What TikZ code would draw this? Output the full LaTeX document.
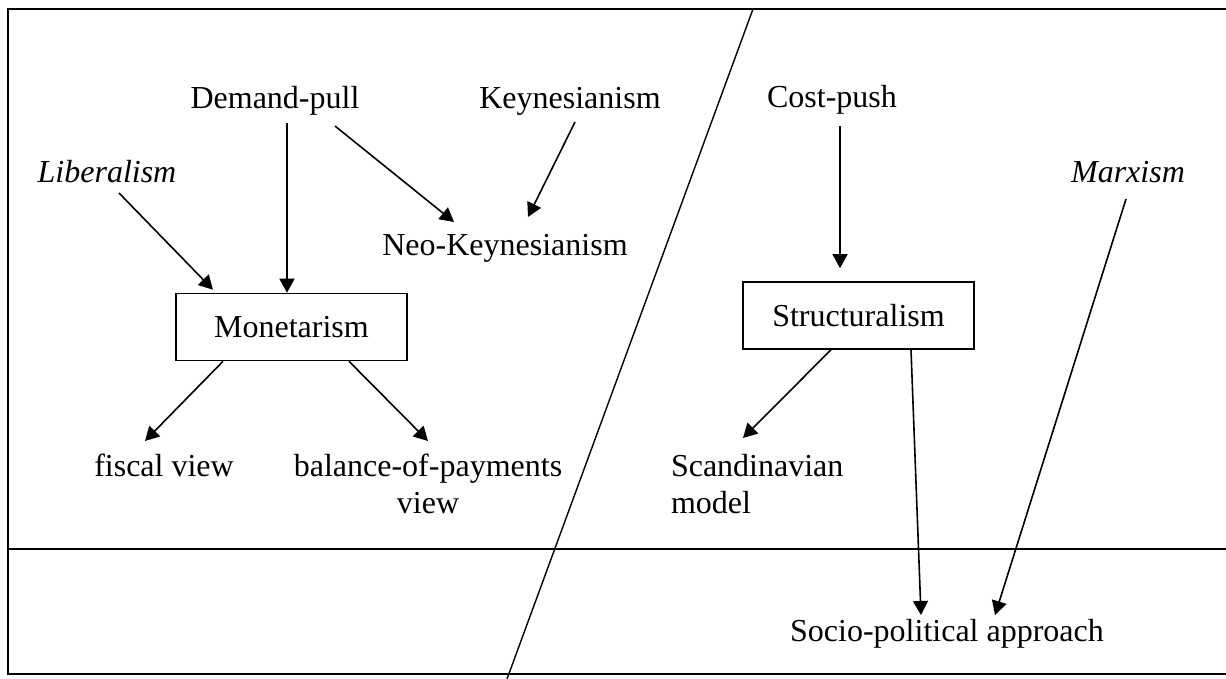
\documentclass[tikz,border=0pt]{standalone}
\usepackage{fontspec}
\setmainfont{Liberation Serif}
\usetikzlibrary{arrows.meta,calc}
\newcommand{\twolines}[3]{\begin{tabular}[t]{@{}#1@{}}#2\\#3\end{tabular}}
\begin{document}
\begin{tikzpicture}[x=0.5pt,y=-0.5pt,
  lbl/.style={inner sep=0pt,outer sep=0pt,font=\fontsize{16}{18.5}\selectfont,anchor=base},
  ilbl/.style={lbl,font=\fontsize{16}{18.5}\selectfont\itshape},
  boxnode/.style={draw,line width=0.8pt,minimum width=115.5pt,minimum height=33.5pt,inner sep=0pt,font=\fontsize{16}{18.5}\selectfont},
  arr/.style={line width=0.8pt,-{Triangle[length=7pt,width=7.5pt]}},
  frame/.style={line width=0.9pt}]
\useasboundingbox (0,0) rectangle (1226,679);
% frame
\draw[frame] (1226,9) -- (8,9) -- (8,674) -- (1226,674);
\draw[frame] (8,549) -- (1226,549);
\draw[line width=0.7pt] (753,9) -- (507,679);
% nodes
\node[lbl] (dp) at (275,109) {Demand-pull};
\node[lbl] (key) at (570,109) {Keynesianism};
\node[ilbl] (lib) at (107,183) {Liberalism};
\node[lbl] (neo) at (505,256) {Neo-Keynesianism};
\node[boxnode] (mon) at (291.5,327) {Monetarism};
\node[lbl] (fis) at (164,476) {fiscal view};
\node[lbl] (bop) at (428,476) {\twolines{c}{balance-of-payments}{view}};
\node[lbl] (cost) at (832,108) {Cost-push};
\node[boxnode] (str) at (858.5,315.5) {Structuralism};
\node[ilbl] (marx) at (1128,183) {Marxism};
\node[lbl,anchor=base west] (scan) at (671,476) {\twolines{l}{Scandinavian}{model}};
\node[lbl] (soc) at (947,641) {Socio-political approach};
% connectors
\draw[arr] ($(dp.base)+(12,14)$) -- ($(mon.north)+(-4.5,0)$);
\draw[arr] ($(lib.base)+(12,10)$) -- ($(mon.north)+(-78.5,-3)$);
\draw[arr] ($(dp.base)+(60,17)$) -- ($(neo.base)+(-51,-34)$);
\draw[arr] ($(key.base)+(5,13)$) -- ($(neo.base)+(23,-39)$);
\draw[arr] ($(mon.south)+(-68.5,0)$) -- ($(fis.base)+(-19,-35)$);
\draw[arr] ($(mon.south)+(57.5,0)$) -- ($(bop.base)+(0,-35)$);
\draw[arr] ($(cost.base)+(8,18)$) -- ($(str.north)+(-18.5,-13)$);
\draw[arr] ($(str.south)+(-27.5,0)$) -- ($(scan.base west)+(72,-38)$);
\draw[arr] ($(str.south)+(52.5,0)$) -- ($(soc.base)+(-26,-26)$);
\draw[arr] ($(marx.base)+(-2,16)$) -- ($(soc.base)+(48,-26)$);
\end{tikzpicture}
\end{document}
